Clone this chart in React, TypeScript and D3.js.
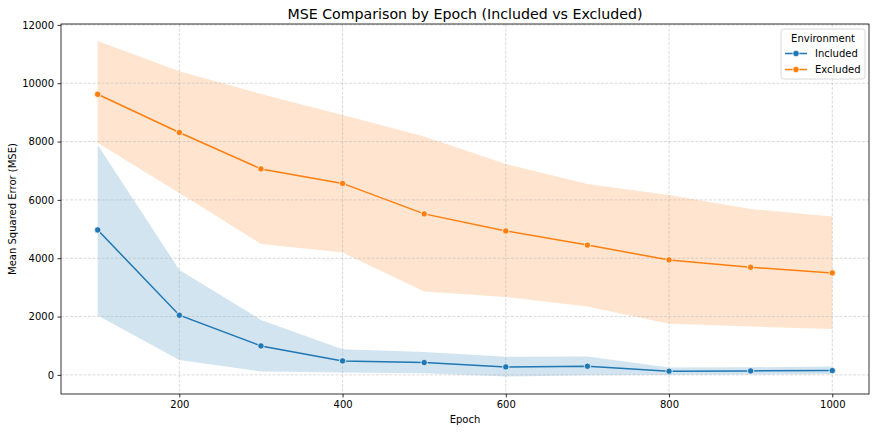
import React, { useEffect, useRef } from "react";
import * as d3 from "d3";

const epochs = [100, 200, 300, 400, 500, 600, 700, 800, 900, 1000];

const includedMean = [4970, 2046, 994, 480, 423, 274, 297, 126, 137, 148];
const includedUpper = [7880, 3600, 1886, 880, 788, 625, 630, 250, 263, 285];
const includedLower = [2034, 514, 114, 80, 57, -57, -10, 0, 10, 34];

const excludedMean = [9620, 8310, 7062, 6565, 5520, 4935, 4450, 3942, 3690, 3497];
const excludedUpper = [11450, 10410, 9630, 8913, 8170, 7233, 6547, 6170, 5690, 5427];
const excludedLower = [7950, 6240, 4490, 4193, 2857, 2670, 2343, 1750, 1657, 1577];

const xTicks = [200, 400, 600, 800, 1000];
const yTicks = [0, 2000, 4000, 6000, 8000, 10000, 12000];

const series = [
  { name: "Included", color: "#1f77b4", mean: includedMean, lo: includedLower, hi: includedUpper },
  { name: "Excluded", color: "#ff7f0e", mean: excludedMean, lo: excludedLower, hi: excludedUpper },
];

export default function App() {
  const ref = useRef<SVGSVGElement>(null);

  useEffect(() => {
    const W = 876, H = 433;
    const m = { top: 24, right: 7, bottom: 39, left: 61 };
    const w = W - m.left - m.right;
    const h = H - m.top - m.bottom;
    const font = "DejaVu Sans, sans-serif";

    const svg = d3.select(ref.current);
    svg.selectAll("*").remove();
    svg.attr("width", W).attr("height", H);

    const x = d3.scaleLinear().domain([55, 1045]).range([0, w]);
    const y = d3.scaleLinear().domain([-655, 12030]).range([h, 0]);

    const g = svg.append("g").attr("transform", `translate(${m.left},${m.top})`);

    // bands
    series.forEach((s) => {
      const area = d3.area<number>()
        .x((_, i) => x(epochs[i]))
        .y0((_, i) => y(s.lo[i]))
        .y1((_, i) => y(s.hi[i]));
      g.append("path").datum(s.mean).attr("d", area).attr("fill", s.color).attr("fill-opacity", 0.2);
    });

    // grid
    g.append("g").selectAll("line").data(xTicks).join("line")
      .attr("x1", (d) => x(d)).attr("x2", (d) => x(d)).attr("y1", 0).attr("y2", h)
      .attr("stroke", "#b0b0b0").attr("stroke-opacity", 0.6).attr("stroke-width", 0.8)
      .attr("stroke-dasharray", "3,1.5");
    g.append("g").selectAll("line").data(yTicks).join("line")
      .attr("x1", 0).attr("x2", w).attr("y1", (d) => y(d)).attr("y2", (d) => y(d))
      .attr("stroke", "#b0b0b0").attr("stroke-opacity", 0.6).attr("stroke-width", 0.8)
      .attr("stroke-dasharray", "3,1.5");

    // lines + markers
    series.forEach((s) => {
      const line = d3.line<number>().x((_, i) => x(epochs[i])).y((d) => y(d));
      g.append("path").datum(s.mean).attr("d", line).attr("fill", "none")
        .attr("stroke", s.color).attr("stroke-width", 1.5);
      g.append("g").selectAll("circle").data(s.mean).join("circle")
        .attr("cx", (_, i) => x(epochs[i])).attr("cy", (d) => y(d)).attr("r", 3.2)
        .attr("fill", s.color).attr("stroke", "white").attr("stroke-width", 0.75);
    });

    // axes
    const xAxis = g.append("g").attr("transform", `translate(0,${h})`)
      .call(d3.axisBottom(x).tickValues(xTicks).tickSize(3.5).tickPadding(3.5).tickFormat(d3.format("d")));
    const yAxis = g.append("g")
      .call(d3.axisLeft(y).tickValues(yTicks).tickSize(3.5).tickPadding(3.5).tickFormat(d3.format("d")));
    [xAxis, yAxis].forEach((a) => {
      a.select(".domain").remove();
      a.selectAll("text").attr("font-family", font).attr("font-size", 10).attr("fill", "#000");
      a.selectAll("line").attr("stroke", "#000").attr("stroke-width", 0.8);
    });

    g.append("rect").attr("x", 0).attr("y", 0).attr("width", w).attr("height", h)
      .attr("fill", "none").attr("stroke", "#000").attr("stroke-width", 0.8);

    // labels
    svg.append("text").attr("x", m.left + w / 2).attr("y", 18.5).attr("text-anchor", "middle")
      .attr("font-family", font).attr("font-size", 14.2).text("MSE Comparison by Epoch (Included vs Excluded)");
    svg.append("text").attr("x", m.left + w / 2).attr("y", 422.5).attr("text-anchor", "middle")
      .attr("font-family", font).attr("font-size", 10).text("Epoch");
    svg.append("text").attr("transform", `translate(16,${m.top + h / 2}) rotate(-90)`)
      .attr("text-anchor", "middle").attr("font-family", font).attr("font-size", 10)
      .text("Mean Squared Error (MSE)");

    // legend
    const lg = svg.append("g").attr("transform", "translate(781,29)");
    lg.append("rect").attr("width", 84).attr("height", 50).attr("rx", 2.5)
      .attr("fill", "white").attr("fill-opacity", 0.8).attr("stroke", "#d0d0d0").attr("stroke-width", 0.8);
    lg.append("text").attr("x", 42).attr("y", 13).attr("text-anchor", "middle")
      .attr("font-family", font).attr("font-size", 10).text("Environment");
    series.forEach((s, i) => {
      const yy = 24.5 + i * 16;
      lg.append("line").attr("x1", 4).attr("x2", 26).attr("y1", yy).attr("y2", yy)
        .attr("stroke", s.color).attr("stroke-width", 1.5);
      lg.append("circle").attr("cx", 15).attr("cy", yy).attr("r", 3.2)
        .attr("fill", s.color).attr("stroke", "white").attr("stroke-width", 0.75);
      lg.append("text").attr("x", 34).attr("y", yy + 3.5)
        .attr("font-family", font).attr("font-size", 10).text(s.name);
    });
  }, []);

  return <svg ref={ref} style={{ position: "absolute", left: 0, top: 0 }} />;
}
